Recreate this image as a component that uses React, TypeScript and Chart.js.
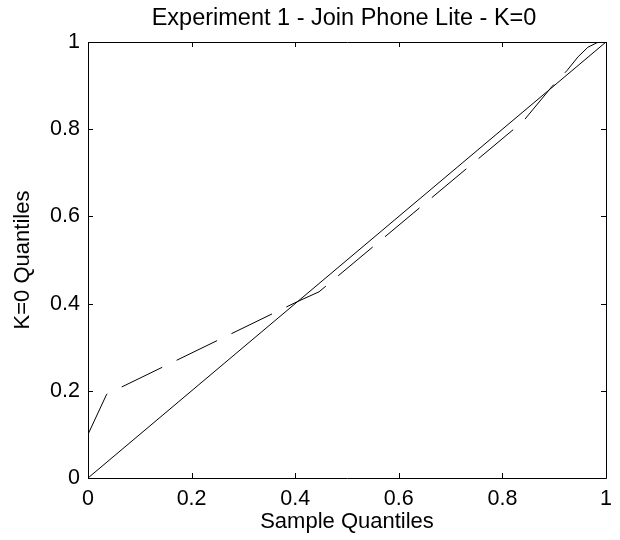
import React, { useEffect, useRef } from 'react';
import { Chart, registerables } from 'chart.js';

Chart.register(...registerables);

const titleText = 'Experiment 1 - Join Phone Lite - K=0';
const xAxisTitle = 'Sample Quantiles';
const yAxisTitle = 'K=0 Quantiles';
const tickValues = [0, 0.2, 0.4, 0.6, 0.8, 1];
const tickLabels = ['0', '0.2', '0.4', '0.6', '0.8', '1'];

// reference line y = x
const refX = [0, 1];
const refY = [0, 1];

// dashed QQ curve
const qqX = [0, 0.036, 0.405, 0.446, 0.84, 0.895, 0.925, 0.946, 0.965, 0.982, 1];
const qqY = [0.1, 0.192, 0.405, 0.427, 0.818, 0.897, 0.935, 0.966, 0.988, 0.998, 1];

const FONT = '"Liberation Sans", Arial, Helvetica, sans-serif';

const boxPlugin = {
  id: 'matlabBox',
  afterDraw(chart: any) {
    const { ctx, chartArea } = chart;
    const { left, right, top, bottom } = chartArea;
    const xs = chart.scales.x;
    const ys = chart.scales.y;
    ctx.save();
    ctx.strokeStyle = '#000';
    ctx.lineWidth = 1;
    ctx.beginPath();
    ctx.rect(Math.round(left) + 0.5, Math.round(top) + 0.5, Math.round(right - left), Math.round(bottom - top));
    ctx.stroke();
    const tl = 5;
    ctx.beginPath();
    tickValues.forEach((v) => {
      const px = Math.round(xs.getPixelForValue(v)) + 0.5;
      ctx.moveTo(px, bottom);
      ctx.lineTo(px, bottom - tl);
      ctx.moveTo(px, top);
      ctx.lineTo(px, top + tl);
      const py = Math.round(ys.getPixelForValue(v)) + 0.5;
      ctx.moveTo(left, py);
      ctx.lineTo(left + tl, py);
      ctx.moveTo(right, py);
      ctx.lineTo(right - tl, py);
    });
    ctx.stroke();
    ctx.fillStyle = '#000';
    ctx.font = `23.5px ${FONT}`;
    ctx.textAlign = 'center';
    ctx.textBaseline = 'alphabetic';
    ctx.fillText(titleText, (left + right) / 2 - 3, 25);
    ctx.restore();
  },
};

export default function App() {
  const ref = useRef<HTMLCanvasElement | null>(null);

  useEffect(() => {
    if (!ref.current) return;
    const tickFont = { family: FONT, size: 21.5 };
    const axisTitleFont = { family: FONT, size: 22 };
    const chart = new Chart(ref.current, {
      type: 'scatter',
      data: {
        datasets: [
          {
            label: 'reference',
            data: refX.map((x, i) => ({ x, y: refY[i] })),
            showLine: true,
            borderColor: '#000',
            borderWidth: 1,
            pointRadius: 0,
            fill: false,
          },
          {
            label: 'quantiles',
            data: qqX.map((x, i) => ({ x, y: qqY[i] })),
            showLine: true,
            borderColor: '#000',
            borderWidth: 1,
            borderDash: [45, 16],
            pointRadius: 0,
            fill: false,
          },
        ],
      },
      options: {
        responsive: false,
        animation: false,
        devicePixelRatio: 1,
        layout: { padding: { top: 42, right: 12, left: 0, bottom: 0 } },
        plugins: {
          legend: { display: false },
          tooltip: { enabled: false },
          title: { display: false },
        },
        scales: {
          x: {
            type: 'linear',
            min: 0,
            max: 1,
            afterBuildTicks: (s: any) => {
              s.ticks = tickValues.map((v) => ({ value: v }));
            },
            afterFit: (s: any) => {
              s.height = 62;
            },
            ticks: {
              callback: (_v: any, i: number) => tickLabels[i],
              font: tickFont,
              color: '#000',
              padding: 8,
              maxRotation: 0,
              autoSkip: false,
            },
            grid: { display: false, drawTicks: false },
            border: { display: false },
            title: {
              display: true,
              text: xAxisTitle,
              font: axisTitleFont,
              color: '#000',
              padding: { top: 0, bottom: 5 },
            },
          },
          y: {
            type: 'linear',
            min: 0,
            max: 1,
            afterBuildTicks: (s: any) => {
              s.ticks = tickValues.map((v) => ({ value: v }));
            },
            afterFit: (s: any) => {
              s.width = 88;
            },
            ticks: {
              callback: (_v: any, i: number) => tickLabels[i],
              font: tickFont,
              color: '#000',
              padding: 8,
              autoSkip: false,
            },
            grid: { display: false, drawTicks: false },
            border: { display: false },
            title: {
              display: true,
              text: yAxisTitle,
              font: axisTitleFont,
              color: '#000',
              padding: { top: 10, bottom: 0 },
            },
          },
        },
      },
      plugins: [boxPlugin],
    } as any);
    return () => chart.destroy();
  }, []);

  return (
    <div style={{ position: 'absolute', left: 0, top: 0, width: 620, height: 540, background: '#fff' }}>
      <canvas ref={ref} width={620} height={540} style={{ display: 'block' }} />
    </div>
  );
}
